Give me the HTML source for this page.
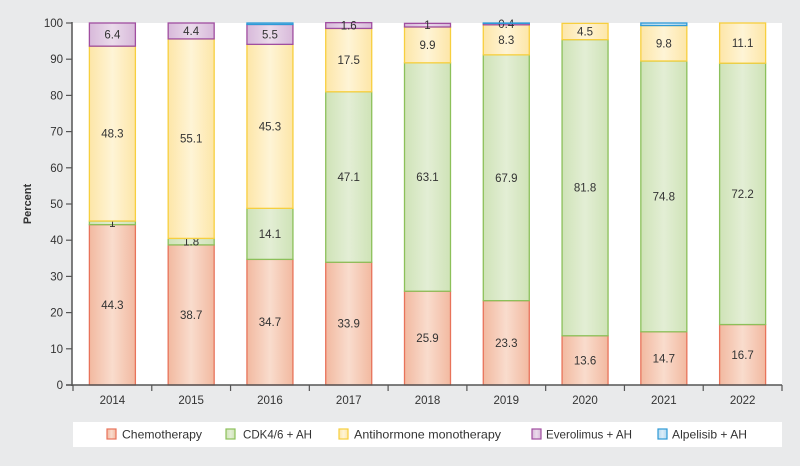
<!DOCTYPE html>
<html><head><meta charset="utf-8">
<style>
html,body{margin:0;padding:0;background:#e9eaeb;}
svg{display:block;font-family:"Liberation Sans",sans-serif;}
</style></head>
<body>
<svg id="chart" width="800" height="466" viewBox="0 0 800 466">
<defs>
<linearGradient id="g0" x1="0" x2="1"><stop offset="0" stop-color="#f2b9a0"/><stop offset="0.5" stop-color="#f9dccd"/><stop offset="1" stop-color="#f2b9a0"/></linearGradient>
<linearGradient id="g1" x1="0" x2="1"><stop offset="0" stop-color="#cfe3b7"/><stop offset="0.5" stop-color="#e3eed5"/><stop offset="1" stop-color="#cfe3b7"/></linearGradient>
<linearGradient id="g2" x1="0" x2="1"><stop offset="0" stop-color="#fde6a8"/><stop offset="0.5" stop-color="#fef4d6"/><stop offset="1" stop-color="#fde6a8"/></linearGradient>
<linearGradient id="g3" x1="0" x2="1"><stop offset="0" stop-color="#d8b9da"/><stop offset="0.5" stop-color="#eadbeb"/><stop offset="1" stop-color="#d8b9da"/></linearGradient>
<linearGradient id="g4" x1="0" x2="1"><stop offset="0" stop-color="#b6d9f0"/><stop offset="0.5" stop-color="#dbedf8"/><stop offset="1" stop-color="#b6d9f0"/></linearGradient>
</defs>
<rect x="72" y="23" width="710" height="362" fill="#ffffff"/>
<rect x="73" y="422" width="709" height="25" fill="#ffffff"/>
<text x="0" y="0" transform="translate(31,204) rotate(-90)" text-anchor="middle" font-size="11" font-weight="bold" fill="#333">Percent</text>
<g id="bars"></g>
<g id="axes"></g>
<g id="legend"></g>
</svg>
<script>
const categories = ["2014","2015","2016","2017","2018","2019","2020","2021","2022"];
const seriesNames = ["Chemotherapy","CDK4/6 + AH","Antihormone monotherapy","Everolimus + AH","Alpelisib + AH"];
const chemo = [44.3,38.7,34.7,33.9,25.9,23.3,13.6,14.7,16.7];
const cdk = [1,1.8,14.1,47.1,63.1,67.9,81.8,74.8,72.2];
const antihormone = [48.3,55.1,45.3,17.5,9.9,8.3,4.5,9.8,11.1];
const everolimus = [6.4,4.4,5.5,1.6,1,0.4,0,0,0];
const alpelisib = [0,0,0.4,0,0,0.1,0,0.7,0];
const yTicks = [0,10,20,30,40,50,60,70,80,90,100];

const NS="http://www.w3.org/2000/svg";
const strokes=["#e8735a","#8cc05a","#f7cf3e","#a04ea0","#2e9ad6"];
const fills=["url(#g0)","url(#g1)","url(#g2)","url(#g3)","url(#g4)"];
const x0=73,x1=782,y0=385,y1=23;
const band=(x1-x0)/categories.length, bw=46;
function xC(i){return x0+band*(i+0.5);}
function yS(v){return y0-(y0-y1)*v/100;}
function mk(tag,attrs,parent){const e=document.createElementNS(NS,tag);for(const k in attrs)e.setAttribute(k,attrs[k]);parent.appendChild(e);return e;}
const series=[chemo,cdk,antihormone,everolimus,alpelisib];
const gb=document.getElementById('bars');
categories.forEach((c,i)=>{
  let cum=0;
  series.forEach((s,j)=>{
    const v=s[i]; if(v<=0) return;
    const ya=yS(cum+v), yb=yS(cum);
    const r=mk('rect',{x:xC(i)-bw/2,y:ya,width:bw,height:yb-ya,fill:fills[j],stroke:strokes[j],'stroke-width':1.3},gb);
    
    
    if(j<4 && v>=0.3){
      const t=mk('text',{x:xC(i),y:(ya+yb)/2+4,'text-anchor':'middle','font-size':11.5,fill:'#333'},gb);
      t.textContent=String(v);
      
      
    }
    cum+=v;
  });
});
const ga=document.getElementById('axes');
let ax=mk('line',{x1:72,y1:y1-1,x2:72,y2:y0+1,stroke:'#555','stroke-width':1.5},ga);


let xa=mk('line',{x1:66,y1:y0,x2:x1,y2:y0,stroke:'#555','stroke-width':1.5},ga);


yTicks.forEach(v=>{
  mk('line',{x1:66,x2:72,y1:yS(v),y2:yS(v),stroke:'#555','stroke-width':1.2},ga);
  const t=mk('text',{x:63,y:yS(v)+4,'text-anchor':'end','font-size':11.5,fill:'#333'},ga);
  t.textContent=v;
  
  
});
for(let i=0;i<=categories.length;i++){
  mk('line',{x1:x0+band*i,x2:x0+band*i,y1:y0,y2:y0+6,stroke:'#555','stroke-width':1.2},ga);
}
categories.forEach((c,i)=>{
  const t=mk('text',{x:xC(i),y:404,'text-anchor':'middle','font-size':11.5,fill:'#333'},ga);
  t.textContent=c;
  
  
});
const gl=document.getElementById('legend');
const lx=[107,226,339,532,658];
const tx=[122,243,354,546,672];
const tw=[80,69,147,86,75];
seriesNames.forEach((n,j)=>{
  const r=mk('rect',{x:lx[j],y:429,width:9,height:10,fill:fills[j],stroke:strokes[j],'stroke-width':1.2},gl);
  
  
  const t=mk('text',{x:tx[j],y:438.5,'font-size':12,fill:'#333',textLength:tw[j],lengthAdjust:'spacingAndGlyphs'},gl);
  t.textContent=n;
  
  
});
</script>
</body></html>
